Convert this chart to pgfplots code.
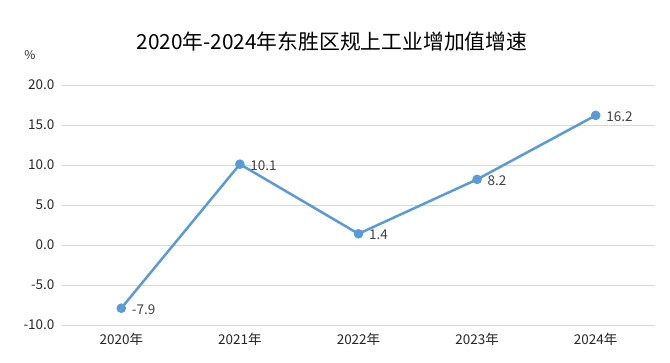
\documentclass[border=0pt]{standalone}
\usepackage{pgfplots}
\pgfplotsset{compat=1.18}
\usepackage{fontspec}
\setmainfont{Noto Sans CJK SC}
\definecolor{lineblue}{HTML}{5B9BD5}
\definecolor{gridgray}{HTML}{D9D9D9}
\definecolor{txt}{HTML}{262626}
\definecolor{lbl}{HTML}{404040}
\begin{document}
\begin{tikzpicture}[x=1pt,y=1pt]
\useasboundingbox (0,0) rectangle (670,363);
\fill[white] (0,0) rectangle (670,363);
\node[font=\fontsize{20.8}{24}\selectfont, text=black] at (332,321) {2020年-2024年东胜区规上工业增加值增速};
\begin{axis}[
  at={(62pt,38pt)}, anchor=south west,
  scale only axis, width=593pt, height=240pt,
  xmin=-0.5, xmax=4.5, ymin=-10, ymax=20,
  xtick={0,1,2,3,4},
  xticklabels={2020年,2021年,2022年,2023年,2024年},
  ytick={-10,-5,0,5,10,15,20},
  yticklabel={\pgfmathprintnumber[fixed,fixed zerofill,precision=1]{\tick}},
  /pgf/number format/assume math mode=true,
  axis line style={draw=none},
  major tick length=0pt,
  ymajorgrids, grid style={gridgray, line width=0.8pt},
  tick label style={font=\fontsize{13.5}{16}\selectfont, text=txt},
  yticklabel style={xshift=-4pt},
  xticklabel style={yshift=-5pt},
  clip=false,
]
\addplot[lineblue, line width=2.5pt, mark=*, mark size=3.5pt, mark options={fill=lineblue, draw=lineblue},
  nodes near coords, point meta=explicit symbolic,
  every node near coord/.style={anchor=west, xshift=6pt, yshift=-1pt, font=\fontsize{13.5}{16}\selectfont, text=lbl}]
  coordinates {(0,-7.9) [-7.9] (1,10.1) [10.1] (2,1.4) [1.4] (3,8.2) [8.2] (4,16.2) [16.2]};
\end{axis}
\node[font=\fontsize{12}{14}\selectfont, text=txt] at (30,308) {\%};
\end{tikzpicture}
\end{document}
